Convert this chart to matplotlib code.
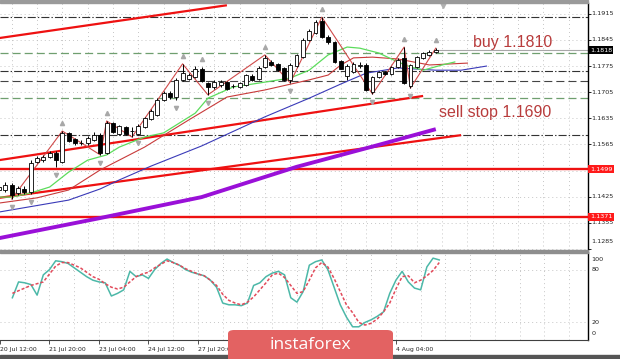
import matplotlib
matplotlib.use("Agg")
import matplotlib.pyplot as plt
from matplotlib.patches import Rectangle, FancyBboxPatch

plt.rcParams['lines.scale_dashes'] = False
plt.rcParams['font.family'] = ['DejaVu Sans']

# ---------------- data (EURUSD H4) ----------------
bars = list(range(-6, 64))
opens = [1.1443, 1.1443, 1.1456, 1.1435, 1.1446, 1.1438, 1.1518, 1.1523, 1.1531, 1.1542,
         1.1518, 1.1596, 1.1580, 1.1569, 1.1569, 1.1577, 1.1590, 1.1542, 1.1622, 1.1593,
         1.1612, 1.1601, 1.1593, 1.1612, 1.1633, 1.1644, 1.1684, 1.1703, 1.1692, 1.1738,
         1.1740, 1.1746, 1.1767, 1.1730, 1.1719, 1.1724, 1.1732, 1.1722, 1.1719, 1.1724,
         1.1748, 1.1740, 1.1773, 1.1786, 1.1781, 1.1770, 1.1738, 1.1775, 1.1799, 1.1845,
         1.1864, 1.1896, 1.1853, 1.1839, 1.1789, 1.1748, 1.1759, 1.1775, 1.1778, 1.1706,
         1.1746, 1.1759, 1.1754, 1.1773, 1.1797, 1.1722, 1.1773, 1.1797, 1.1805, 1.1813]
highs = [1.1456, 1.1464, 1.1462, 1.1454, 1.1454, 1.1523, 1.1534, 1.1537, 1.1547, 1.1547,
         1.1601, 1.1598, 1.1582, 1.1577, 1.1588, 1.1598, 1.1596, 1.1628, 1.1625, 1.1617,
         1.1614, 1.1612, 1.1620, 1.1639, 1.1660, 1.1689, 1.1708, 1.1708, 1.1743, 1.1781,
         1.1756, 1.1775, 1.1773, 1.1732, 1.1738, 1.1738, 1.1735, 1.1727, 1.1732, 1.1754,
         1.1754, 1.1775, 1.1805, 1.1791, 1.1783, 1.1773, 1.1783, 1.1807, 1.1850, 1.1874,
         1.1898, 1.1906, 1.1858, 1.1842, 1.1791, 1.1781, 1.1786, 1.1786, 1.1783, 1.1748,
         1.1762, 1.1762, 1.1775, 1.1797, 1.1826, 1.1781, 1.1802, 1.1813, 1.1818, 1.1823]
lows = [1.1438, 1.1438, 1.1419, 1.1430, 1.1432, 1.1432, 1.1515, 1.1518, 1.1529, 1.1505,
        1.1515, 1.1572, 1.1564, 1.1564, 1.1564, 1.1574, 1.1537, 1.1539, 1.1596, 1.1590,
        1.1590, 1.1585, 1.1590, 1.1609, 1.1631, 1.1641, 1.1681, 1.1687, 1.1684, 1.1735,
        1.1738, 1.1743, 1.1732, 1.1698, 1.1714, 1.1719, 1.1711, 1.1716, 1.1716, 1.1722,
        1.1735, 1.1738, 1.1770, 1.1775, 1.1762, 1.1735, 1.1730, 1.1773, 1.1797, 1.1842,
        1.1861, 1.1850, 1.1834, 1.1783, 1.1767, 1.1738, 1.1756, 1.1770, 1.1708, 1.1700,
        1.1743, 1.1751, 1.1751, 1.1770, 1.1727, 1.1716, 1.1770, 1.1794, 1.1802, 1.1810]
closes = [1.1451, 1.1456, 1.1430, 1.1448, 1.1438, 1.1515, 1.1529, 1.1531, 1.1542, 1.1523,
          1.1596, 1.1574, 1.1569, 1.1570, 1.1582, 1.1590, 1.1542, 1.1622, 1.1598, 1.1614,
          1.1593, 1.1602, 1.1614, 1.1636, 1.1655, 1.1684, 1.1703, 1.1692, 1.1738, 1.1756,
          1.1751, 1.1767, 1.1735, 1.1719, 1.1732, 1.1732, 1.1714, 1.1721, 1.1730, 1.1751,
          1.1738, 1.1770, 1.1797, 1.1778, 1.1764, 1.1738, 1.1778, 1.1805, 1.1845, 1.1869,
          1.1893, 1.1853, 1.1839, 1.1786, 1.1767, 1.1775, 1.1781, 1.1778, 1.1711, 1.1746,
          1.1759, 1.1754, 1.1773, 1.1791, 1.1730, 1.1778, 1.1799, 1.1810, 1.1813, 1.1818]

# Alligator lines (jaw / teeth / lips), shifted forward
lips_bars = [-6, -4, -1, 2, 5, 8, 11, 13, 17, 20, 25, 27, 31, 36, 40, 43, 46, 49, 51, 54, 57, 59, 61, 64, 66]
lips_vals = [1.1424, 1.1424, 1.1435, 1.1451, 1.1491, 1.1523, 1.1537, 1.1558, 1.1585, 1.1596,
             1.1649, 1.1689, 1.1719, 1.1732, 1.1743, 1.1764, 1.1805, 1.1826, 1.1823, 1.1810,
             1.1786, 1.1773, 1.1764, 1.1778, 1.1786]
teeth_bars = [-6, 0, 5, 10, 17, 24, 30, 36, 43, 46, 48, 50, 53, 57, 62, 68]
teeth_vals = [1.1408, 1.1422, 1.1443, 1.1497, 1.1558, 1.1631, 1.1692, 1.1711, 1.1738, 1.1751,
              1.1778, 1.1797, 1.1799, 1.1794, 1.1778, 1.1783]
jaw_bars = [-6, 5, 10, 13, 18, 26, 36, 43, 48, 52, 57, 63, 67, 71]
jaw_vals = [1.1384, 1.1416, 1.1446, 1.1470, 1.1507, 1.1561, 1.1639, 1.1689, 1.1727, 1.1756,
            1.1770, 1.1764, 1.1764, 1.1775]
slow_bars = [-6, 10, 26, 41, 54, 63]
slow_vals = [1.1314, 1.1368, 1.1424, 1.1505, 1.1564, 1.1606]

zz_bars = [-4, 4, 10, 11, 15, 23, 27, 36, 40, 45, 53, 58, 59, 63]
zz_vals = [1.1419, 1.1601, 1.1537, 1.1628, 1.1585, 1.1781, 1.1698, 1.1805, 1.1730, 1.1906,
           1.1700, 1.1826, 1.1716, 1.1823]
fractal_up = [4, 11, 23, 26, 36, 45, 58, 63]
fractal_down = [-4, -1, 3, 10, 16, 22, 27, 40, 53, 59]

# trend lines: (bar0, price0, bar1, price1)
trend_lines = [(-6, 1.1850, 30, 1.1938),
               (-6, 1.1523, 61, 1.1695),
               (-6, 1.1422, 67, 1.1590)]
red_levels = [1.1499, 1.1371]
dashdot_levels = [1.1907, 1.1763, 1.1590]
dashed_levels = [1.1734]
green_levels = [1.1809, 1.1690]
last_price = 1.1818

notes = [("buy 1.1810", 68.8, 1.1825), ("sell stop 1.1690", 63.5, 1.1639)]

price_ticks = [1.1915, 1.1845, 1.1775, 1.1705, 1.1635, 1.1565, 1.1495, 1.1425, 1.1355, 1.1285]
boxed = [(1.1818, 'black'), (1.1499, '#ff1a1a'), (1.1371, '#ff1a1a')]

# tick positions every 8 bars; the three under the badge are not readable
time_ticks = [-8, 0, 8, 16, 24, 32, 40, 48, 56]
time_labels = ["20 Jul 12:00", "21 Jul 20:00", "23 Jul 04:00", "24 Jul 12:00", "27 Jul 20:00",
               "", "", "", "4 Aug 04:00"]

stoch_main = [48, 66, 65, 63, 51, 74, 80, 90, 89, 87, 82, 77, 72, 68, 66, 65, 50, 53, 57, 78,
              72, 74, 70, 80, 87, 92, 88, 85, 80, 77, 75, 73, 68, 60, 42, 40, 40, 39, 42, 62,
              65, 72, 76, 78, 74, 48, 43, 55, 85, 89, 91, 80, 60, 40, 26, 15, 15, 20, 23, 27,
              32, 53, 68, 78, 66, 59, 57, 83, 93, 91]
stoch_signal = [53, 56, 59, 62, 64, 66, 75, 84, 88, 88, 85, 82, 77, 72, 69, 64, 60, 58, 60, 66,
                72, 75, 77, 82, 86, 90, 88, 85, 81, 78, 75, 73, 68, 62, 52, 45, 42, 40, 43, 49,
                57, 65, 74, 76, 71, 62, 53, 55, 68, 82, 88, 83, 70, 55, 40, 31, 20, 17, 19, 24,
                32, 42, 58, 72, 73, 65, 68, 73, 79, 88]

# ---------------- figure ----------------
W, H = 620, 359
fig = plt.figure(figsize=(W / 100, H / 100), dpi=100)
fig.patch.set_facecolor('white')
ax = fig.add_axes([0, 1 - 250 / H, 588 / W, 247 / H])
ax2 = fig.add_axes([0, 1 - 340 / H, 588 / W, 88 / H])

x_lo, x_hi = -37 / 6.33, (588 - 37) / 6.33
for a in (ax, ax2):
    a.set_xlim(x_lo, x_hi)
    for s in ('top', 'left', 'bottom'):
        a.spines[s].set_visible(False)
    a.spines['right'].set_color('black')
    a.spines['right'].set_linewidth(1.0)
ax.set_ylim(1.12823, 1.19440)
ax2.set_ylim(0, 100)
ax2.spines['bottom'].set_visible(True)
ax2.spines['bottom'].set_color('#404040')

grid_style = dict(color='#bdbdbd', lw=0.6, ls=(0, (0.7, 2.2)), zorder=0)
grid_bars = list(range(-4, 88, 4))
for b in grid_bars:
    ax.axvline(b, **grid_style)
    ax2.axvline(b, **grid_style)
for p in price_ticks:
    ax.axhline(p, **grid_style)
for v in (80, 20):
    ax2.axhline(v, **grid_style)

# level lines
for p in dashdot_levels:
    ax.axhline(p, color='#333333', lw=0.8, ls=(0, (5.8, 1.5, 1.0, 1.5)), zorder=1)
for p in dashed_levels:
    ax.axhline(p, color='#444444', lw=0.8, ls=(0, (5.8, 2.9)), zorder=1)
for p in green_levels:
    ax.axhline(p, color='#6f9f6f', lw=0.9, ls=(0, (5.8, 2.9)), zorder=1)
for p in red_levels:
    ax.axhline(p, color='#ee1111', lw=1.7, zorder=3)
for b0, p0, b1, p1 in trend_lines:
    ax.plot([b0, b1], [p0, p1], color='#ee1111', lw=1.6, zorder=3, solid_capstyle='butt')
ax.plot([bars[-1], x_hi], [last_price, last_price], color='#a8a8a8', lw=0.8, zorder=1)

# moving averages
ax.plot(slow_bars, slow_vals, color='#9a10d8', lw=2.8, zorder=3, solid_capstyle='butt')
ax.plot(jaw_bars, jaw_vals, color='#3a3ab8', lw=0.8, zorder=4)
ax.plot(teeth_bars, teeth_vals, color='#c83a3a', lw=0.8, zorder=4)
ax.plot(lips_bars, lips_vals, color='#5cdc5c', lw=0.9, zorder=4)
ax.plot(zz_bars, zz_vals, color='#d04a4a', lw=0.8, zorder=5)

# candles
ax.vlines(bars, lows, highs, color='black', lw=0.7, zorder=6)
for b, o, c in zip(bars, opens, closes):
    lo, hi = min(o, c), max(o, c)
    ax.bar(b, max(hi - lo, 0.00002), bottom=lo, width=0.62,
           color='white' if c >= o else 'black', edgecolor='black', lw=0.6, zorder=7)

# fractal arrows
hi_map = dict(zip(bars, highs))
lo_map = dict(zip(bars, lows))
ax.plot(fractal_up, [hi_map[b] + 0.0021 for b in fractal_up], ls='none', marker='^',
        ms=3.0, color='#a8a8a8', zorder=5)
ax.plot(fractal_down, [lo_map[b] - 0.0021 for b in fractal_down], ls='none', marker='v',
        ms=3.0, color='#a8a8a8', zorder=5)
ax.plot([64.1], [1.1938], marker='v', ms=4, color='#b0b0b0', clip_on=False, zorder=8)

for text, b, p in notes:
    ax.text(b, p, text, color='#b83c3c', fontsize=11.5, family='Liberation Sans',
            ha='left', va='baseline', zorder=9)

# price scale
ax.set_xticks([])
ax.set_yticks(price_ticks)
ax.tick_params(axis='y', which='both', left=False, right=True, labelleft=False,
               labelright=False, length=2, width=0.6, color='black')
ytr = ax.get_yaxis_transform()
for p in price_ticks:
    if p in (1.1495,):
        continue
    yy = p + 0.0019 if p == 1.1285 else p
    ax.text(1.006, yy, f"{p:.4f}", transform=ytr, fontsize=4.6, color='#222222',
            ha='left', va='center', clip_on=False)
for p, col in boxed:
    ax.text(1.003, p, f"{p:.4f}", transform=ytr, fontsize=4.6, color='white',
            ha='left', va='center', clip_on=False, zorder=10,
            bbox=dict(boxstyle='square,pad=0.22', fc=col, ec='none'))

# stochastic
ax2.plot(bars, stoch_main, color='#4cb8a8', lw=1.1, zorder=3)
ax2.plot(bars, stoch_signal, color='#e24a5a', lw=1.1, ls=(0, (2.2, 1.4)), zorder=4)
ax2.set_yticks([])
ytr2 = ax2.get_yaxis_transform()
for lab, v in (("100", 92), ("80", 80), ("20", 20), ("0", 7)):
    ax2.text(1.006, v, lab, transform=ytr2, fontsize=4.6, color='#222222',
             ha='left', va='center', clip_on=False)
ax2.set_xticks(time_ticks)
ax2.set_xticklabels(time_labels, fontsize=4.4, color='#222222')
for lbl in ax2.get_xticklabels():
    lbl.set_ha('left')
ax2.tick_params(axis='x', length=3, width=0.6, pad=2, color='#333333')

# frame bands
fig.add_artist(Rectangle((0, 1 - 3 / H), 588 / W, 3 / H, transform=fig.transFigure,
                         color='#9a9a9a', zorder=20))
fig.add_artist(Rectangle((0, 1 - 253 / H), 588 / W, 3 / H, transform=fig.transFigure,
                         color='#8e8e8e', zorder=20))
fig.add_artist(Rectangle((0, 0), 1, 4 / H, transform=fig.transFigure,
                         color='#555555', zorder=20))

# instaforex badge
fig.add_artist(FancyBboxPatch((228 / W, -0.02), 165 / W, (29 / H) + 0.02,
                              boxstyle='round,pad=0,rounding_size=0.01',
                              transform=fig.transFigure, fc='#e36262', ec='none', zorder=30))
fig.text(310 / W, 1 - 345 / H, "instaforex", color='white', fontsize=12.5,
         family='Open Sans', ha='center', va='center', zorder=31)

fig.savefig('out.png', dpi=100)
